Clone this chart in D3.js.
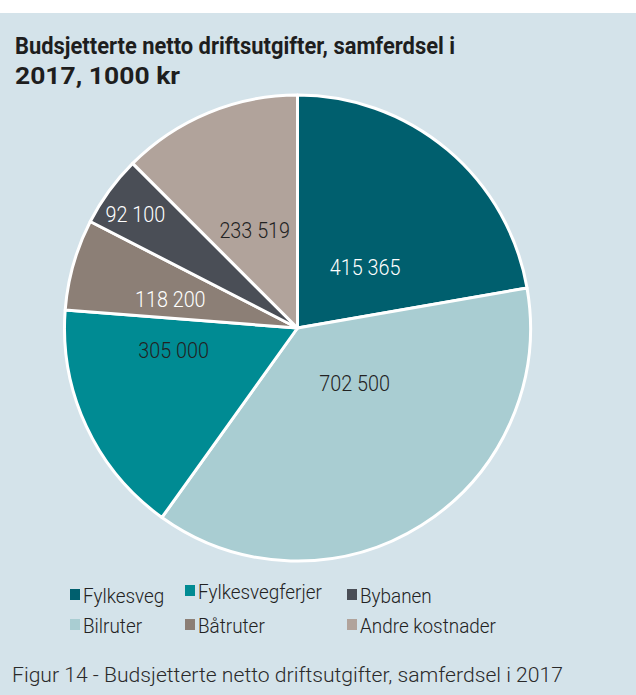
<!DOCTYPE html>
<html>
<head>
<meta charset="utf-8">
<script src="https://cdn.jsdelivr.net/npm/d3@7"></script>
<style>
  body { margin: 0; background: #fff; }
  svg { display: block; }
  text { font-family: Roboto, "Noto Sans", sans-serif; }
</style>
</head>
<body>
<div id="chart"></div>
<script>
'use strict';

// data
const categories = ['Fylkesveg', 'Bilruter', 'Fylkesvegferjer', 'Båtruter', 'Bybanen', 'Andre kostnader'];
const values = [415365, 702500, 305000, 118200, 92100, 233519];
const valueLabels = ['415 365', '702 500', '305 000', '118 200', '92 100', '233 519'];
const colors = ['#005f6e', '#a9cdd2', '#008b93', '#8c7f76', '#4a4e56', '#b1a39b'];
const labelColors = ['#fff', '#222', '#222', '#fff', '#fff', '#222'];

// legend order as in the reference (two rows of three)
const legendOrder = ['Fylkesveg', 'Fylkesvegferjer', 'Bybanen', 'Bilruter', 'Båtruter', 'Andre kostnader'];

const titleLines = ['Budsjetterte netto driftsutgifter, samferdsel i', '2017, 1000 kr'];
const footer = 'Figur 14 - Budsjetterte netto driftsutgifter, samferdsel i 2017';

// label placement: [radius fraction, angle nudge in degrees]
const labelPlace = [[0.39, 8], [0.34, -14], [0.54, 15], [0.56, -3], [0.85, -1], [0.46, -1]];

const width = 636;
const height = 695;
const cx = 297.5;
const cy = 328;
const radius = 233;

const svg = d3.select('#chart').append('svg')
    .attr('width', width)
    .attr('height', height);

svg.append('rect')
    .attr('x', 0).attr('y', 13)
    .attr('width', width).attr('height', height - 13)
    .attr('fill', '#d4e3ea');

// title
svg.append('g')
    .selectAll('text')
    .data(titleLines)
    .enter()
    .append('text')
    .attr('x', 15)
    .attr('y', function(d, i) { return 54 + i * 30; })
    .attr('font-size', 23)
    .attr('font-weight', 700)
    .attr('fill', '#1e1e1e')
    .attr('textLength', function(d, i) { return i === 0 ? 440 : 165; })
    .attr('lengthAdjust', 'spacingAndGlyphs')
    .text(function(d) { return d; });

// pie
const pie = d3.pie().sort(null).value(function(d) { return d; });
const arcs = pie(values);
const arc = d3.arc().innerRadius(0).outerRadius(radius);

const g = svg.append('g').attr('transform', 'translate(' + cx + ',' + cy + ')');

g.selectAll('.slice')
    .data(arcs)
    .enter()
    .append('path')
    .attr('class', 'slice')
    .attr('d', arc)
    .attr('fill', function(d, i) { return colors[i]; })
    .attr('stroke', '#fff')
    .attr('stroke-width', 3)
    .attr('stroke-linejoin', 'round');

g.selectAll('.value-label')
    .data(arcs)
    .enter()
    .append('text')
    .attr('class', 'value-label')
    .attr('transform', function(d, i) {
        const a = (d.startAngle + d.endAngle) / 2 + labelPlace[i][1] * Math.PI / 180;
        const r = radius * labelPlace[i][0];
        return 'translate(' + (Math.sin(a) * r) + ',' + (-Math.cos(a) * r) + ') scale(0.9,1)';
    })
    .attr('text-anchor', 'middle')
    .attr('dy', '0.36em')
    .attr('font-size', 22)
    .attr('font-weight', 300)
    .attr('fill', function(d, i) { return labelColors[i]; })
    .text(function(d, i) { return valueLabels[i]; });

// legend
const colX = [70, 185, 347];
const rowY = [603, 633];
const legend = svg.append('g').attr('class', 'legend');

const items = legend.selectAll('.item')
    .data(legendOrder)
    .enter()
    .append('g')
    .attr('class', 'item')
    .attr('transform', function(d, i) {
        const lift = d === 'Fylkesvegferjer' ? -4 : 0;
        return 'translate(' + colX[i % 3] + ',' + (rowY[Math.floor(i / 3)] + lift) + ')';
    });

items.append('rect')
    .attr('x', 0).attr('y', -14)
    .attr('width', 10).attr('height', 11)
    .attr('fill', function(d) { return colors[categories.indexOf(d)]; });

items.append('text')
    .attr('transform', 'translate(13,0) scale(0.9,1)')
    .attr('font-size', 21)
    .attr('font-weight', 300)
    .attr('fill', '#222')
    .text(function(d) { return d; });

// footer
svg.append('text')
    .attr('x', 12)
    .attr('y', 682)
    .attr('font-size', 21)
    .attr('font-weight', 300)
    .attr('fill', '#2a2a2a')
    .attr('textLength', 551)
    .attr('lengthAdjust', 'spacingAndGlyphs')
    .text(footer);
</script>
</body>
</html>
